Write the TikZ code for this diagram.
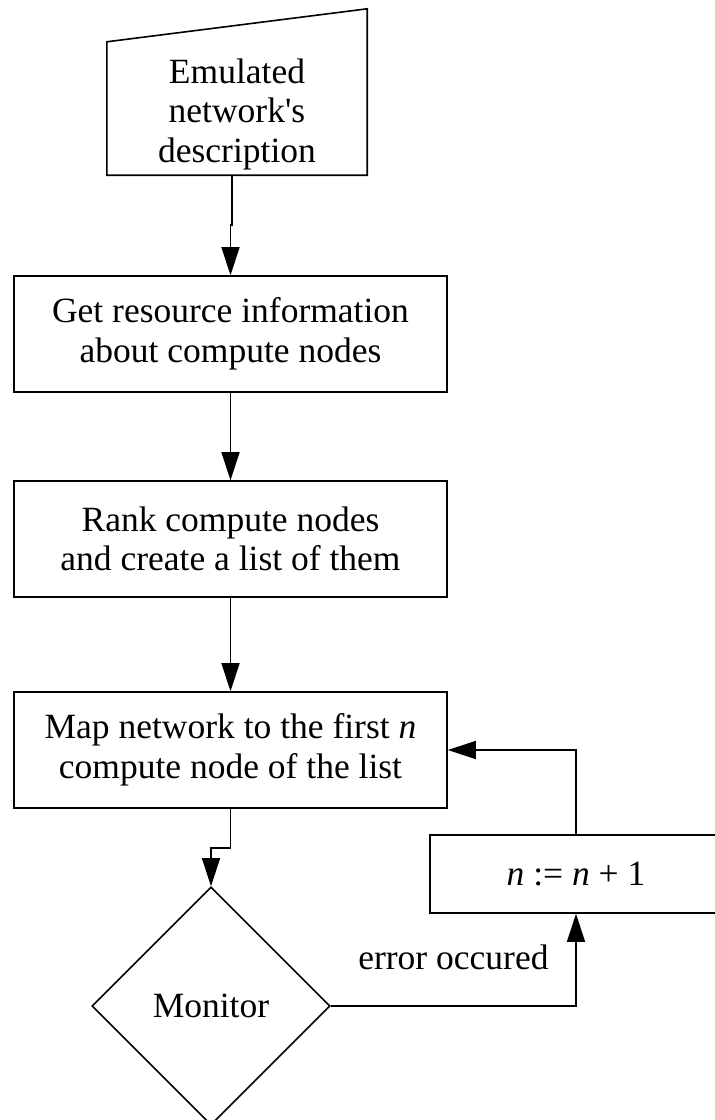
\documentclass[tikz,border=0pt]{standalone}
\usepackage{fontspec}
\setmainfont{Liberation Serif}
\usetikzlibrary{arrows.meta,shapes.geometric}
\begin{document}
\begin{tikzpicture}[x=1pt,y=-1pt,
  every node/.style={font=\fontsize{35.5}{39.5}\selectfont},
  line/.style={line width=1.6pt},
  proc/.style={draw, line, minimum width=433pt, minimum height=116pt,
    align=center, inner sep=0pt},
  arr/.style={line, -{Triangle[width=18pt,length=28pt]}},
  ]
\useasboundingbox (0,0) rectangle (715,1120);
\clip (0,0) rectangle (715,1120);

% manual input (slanted top)
\node[minimum width=260pt, minimum height=122pt, inner sep=0pt, align=center]
  (desc) at (237,114) {Emulated\\network\textquotesingle s\\description};
\draw[line] (desc.south west) -- ([yshift=11pt]desc.north west)
  -- ([yshift=44pt]desc.north east) -- (desc.south east) -- cycle;

% process steps
\node[proc] (info) at (230.5,334) {Get resource information\\about compute nodes};
\node[proc] (rank) at (230.5,539) {Rank compute nodes\\and create a list of them};
\node[proc] (map)  at (230.5,750) {Map network to the first \textit{n}\\compute node of the list};
\node[draw, line, minimum width=292pt, minimum height=78pt, inner sep=0pt]
  (inc) at (576,874) {\textit{n} := \textit{n} + 1};
\node[draw, line, diamond, aspect=1, minimum width=238pt, minimum height=238pt,
  inner sep=0pt] (mon) at (211,1006) {Monitor};

% connectors
\draw[arr] ([xshift=-5pt]desc.south) -- ++(0,50) -| (info.north);
\draw[arr] (info.south) -- (rank.north);
\draw[arr] (rank.south) -- (map.north);
\draw[arr] (map.south) -- ++(0,39) -| (mon.north);
\draw[arr] (mon.east) -| node[pos=0.25, above=35pt, inner sep=0pt] {error occured} (inc.south);
\draw[arr] (inc.north) |- (map.east);
\end{tikzpicture}
\end{document}
